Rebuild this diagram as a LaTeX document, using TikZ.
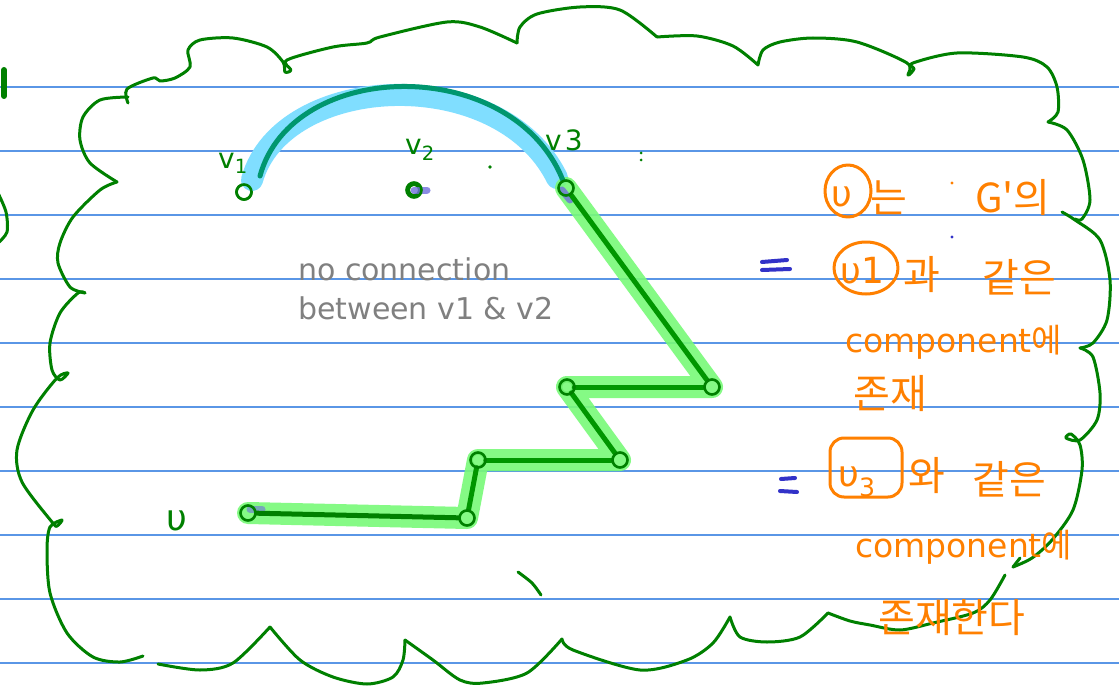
\documentclass[tikz,border=0pt]{standalone}
\usepackage{fontspec}
\setmainfont{DejaVu Sans}
\newfontfamily\kr{Noto Sans CJK KR}
\usetikzlibrary{calc}
\definecolor{pen}{RGB}{0,128,0}
\definecolor{orng}{RGB}{255,128,0}
\definecolor{rulec}{RGB}{90,150,230}
\definecolor{hlblue}{RGB}{128,222,255}
\definecolor{tealp}{RGB}{0,150,110}
\definecolor{hlgreen}{RGB}{120,250,120}
\definecolor{dgreen}{RGB}{0,150,0}
\definecolor{smudge}{RGB}{110,110,220}
\definecolor{txtgray}{RGB}{128,128,128}
\definecolor{eqblue}{RGB}{50,50,200}
\tikzset{
  ink/.style={draw=pen, line width=3pt, line cap=round, line join=round},
  oink/.style={draw=orng, line width=3pt, line cap=round, line join=round},
  vtx/.style={circle, draw=pen, line width=2.6pt, minimum size=15pt, inner sep=0pt},
  hlg/.style={draw=hlgreen, line width=22pt, line cap=round, line join=round},
  hlb/.style={draw=hlblue, line width=22pt, line cap=round, line join=round},
  edge/.style={draw=dgreen, line width=5pt, line cap=round, line join=round},
  vlabel/.style={text=pen, font=\fontsize{28}{30}\selectfont, inner sep=0pt, anchor=base west},
  ktext/.style={text=orng, font=\kr\fontsize{40}{44}\selectfont, inner sep=0pt, anchor=base west},
  etext/.style={text=orng, font=\fontsize{36}{40}\selectfont, inner sep=0pt, anchor=base west},
  ctext/.style={text=orng, font=\fontsize{33}{40}\selectfont, inner sep=0pt, anchor=base west},
  note/.style={text=txtgray, font=\fontsize{30}{38}\selectfont, inner sep=0pt, anchor=base west},
  ruleline/.style={draw=rulec, line width=1.2pt},
  eqs/.style={draw=eqblue, line width=4pt, line cap=round},
}
\begin{document}
\begin{tikzpicture}[x=1pt,y=-1pt]
\useasboundingbox[fill=white] (0,0) rectangle (1119,698);
% ruled lines
\foreach \k in {0,...,9} {
  \draw[ruleline] (0,87+64*\k) -- (1119,87+64*\k);
}
% cloud outline
\draw[ink] plot[smooth] coordinates {(128,103) (127,89) (153,78) (160,81) (175,78) (190,67) (188,50) (200,40) (233,38) (267,47) (283,62) (285,72) (291,70) (287,60) (333,47) (367,43) (380,37) (447,22) (480,27) (517,43)};
\draw[ink] plot[smooth] coordinates {(517,43) (520,27) (537,14) (580,7) (620,10) (657,37)};
\draw[ink] plot[smooth] coordinates {(657,37) (697,36) (733,46) (758,65)};
\draw[ink] plot[smooth] coordinates {(758,65) (763,50) (780,42) (813,38) (857,42) (907,63) (908,75) (914,69) (913,63) (957,53) (1023,57) (1047,67) (1057,87) (1058,112) (1048,122)};
\draw[ink] plot[smooth] coordinates {(1048,122) (1067,130) (1083,160) (1090,200) (1082,219) (1075,219)};
\draw[ink] plot[smooth] coordinates {(1062,212) (1075,220) (1100,240) (1110,280) (1107,320) (1093,343) (1080,348)};
\draw[ink] plot[smooth] coordinates {(1080,348) (1093,357) (1100,393) (1097,420) (1080,440) (1066,438) (1071,434) (1080,445) (1082,470) (1073,510) (1052,540) (1032,558) (1013,567)};
\draw[ink] (1013,567) -- (1020,558);
\draw[ink] plot[smooth] coordinates {(1005,575) (990,600) (973,613) (933,623) (900,630) (870,625) (850,621) (828,613)};
\draw[ink] plot[smooth] coordinates {(828,613) (800,637) (767,642) (740,637) (730,617)};
\draw[ink] plot[smooth] coordinates {(730,617) (713,643) (687,660) (640,670) (573,650) (562,639)};
\draw[ink] plot[smooth] coordinates {(562,639) (527,673) (483,683) (460,680) (433,660) (405,640)};
\draw[ink] plot[smooth] coordinates {(405,640) (403,660) (393,677) (367,684) (333,677) (300,660) (270,627)};
\draw[ink] plot[smooth] coordinates {(270,627) (233,663) (200,670) (158,664)};
\draw[ink] plot[smooth] coordinates {(143,656) (120,662) (93,657) (67,633) (50,593) (47,550) (50,527) (62,520) (57,526) (52,522) (22,482) (17,450) (33,410) (57,378) (68,373) (60,380) (52,370) (50,343) (60,313) (78,293) (85,293)};
\draw[ink] plot[smooth] coordinates {(85,293) (70,287) (58,263) (60,243) (73,217) (100,190) (117,182)};
\draw[ink] plot[smooth] coordinates {(117,182) (90,163) (80,140) (83,117) (100,100) (128,97)};
% stray marks
\draw[draw=pen, line width=6pt, line cap=round] (4,70) -- (4,96);
\draw[ink] plot[smooth] coordinates {(-2,193) (6,212) (7,232) (-2,243)};
\draw[ink] plot[smooth] coordinates {(518,572) (532,583) (541,595)};
\fill[pen] (490,167) circle (1.8pt);
\fill[pen] (641,153) circle (1.5pt);
\fill[pen] (641,160) circle (1.5pt);
% nodes
\node[vtx] (v1) at (244,192) {};
\node[vtx, minimum size=11pt] (v2) at (414,190) {};
\node[vtx] (v3) at (566,188) {};
\node[vtx] (p1) at (712,387) {};
\node[vtx, minimum size=12pt] (p2) at (567,387) {};
\node[vtx] (p3) at (620,460) {};
\node[vtx, minimum size=13pt] (p4) at (478,460) {};
\node[vtx] (p5) at (467,518) {};
\node[vtx] (v) at (248,513) {};
% highlights
\draw[hlb] (252,180) .. controls (282,72) and (500,62) .. (557,178);
\draw[hlg, opacity=0.9] (v3.center) -- (p1.center) -- (p2.center) -- (p3.center) -- (p4.center) -- (p5.center) -- (v.center);
% smudges
\draw[draw=smudge, line width=7pt, line cap=round, opacity=0.8] (414,190) -- (427,190);
\draw[draw=smudge, line width=7pt, line cap=round, opacity=0.8] (562,190) -- (570,200);
\draw[draw=smudge, line width=7pt, line cap=round, opacity=0.6] (250,509) -- (262,509);
% dark strokes
\draw[draw=tealp, line width=5pt, line cap=round] (260,176) .. controls (292,58) and (512,54) .. (v3);
\draw[edge] (v3) -- (p1);
\draw[edge] (p1) -- (p2);
\draw[edge] (p2) -- (p3);
\draw[edge] (p3) -- (p4);
\draw[edge] (p4) -- (p5);
\draw[edge, draw=pen] (p5) -- (v);
% redraw node circles on top
\foreach \n in {v1,v2,v3,p1,p2,p3,p4,p5,v} { \node[vtx] at (\n) {}; }
% labels
\node[vlabel] (l1) at (218,168) {v\textsubscript{1}};
\node[vlabel] (l2) at (405,155) {v\textsubscript{2}};
\node[vlabel] (l3) at (545,150) {v\kern3pt 3};
\node[vlabel] (lv) at (166,530) {\fontsize{36}{36}\selectfont υ};
% gray note
\node[note] (n1) at (298,280) {no connection};
\node[note] (n2) at (298,319) {between v1 \& v2};
% right side notes
\draw[oink] (848,191) ellipse (23pt and 26pt);
\node[etext] (c1) at (831,206) {υ};
\node[ktext] (k1) at (870,212) {는};
\fill[orng] (952,183) circle (1.6pt);
\node[ktext] (k2) at (975,212) {G'의};
\fill[eqblue] (952,237) circle (1.6pt);
\draw[eqs] (762,262) -- (787,260);
\draw[eqs] (762,270) -- (790,269);
\draw[oink] (866,268) ellipse (32pt and 26pt);
\node[etext] (c2) at (840,283) {υ1};
\node[ktext] (k3) at (903,289) {과};
\node[ktext] (k4) at (982,292) {같은};
\node[ctext] (k5) at (845,352) {component{\kr 에}};
\node[ktext] (k6) at (853,408) {존재};
\draw[eqs] (781,479) -- (795,478);
\draw[eqs] (780,491) -- (797,492);
\draw[oink, rounded corners=14pt] (830,438) rectangle (902,497);
\node[etext] (c3) at (838,486) {υ\textsubscript{3}};
\node[ktext] (k7) at (908,490) {와};
\node[ktext] (k8) at (972,494) {같은};
\node[ctext] (k9) at (855,557) {component{\kr 에}};
\node[ktext] (k10) at (878,632) {존재한다};
\end{tikzpicture}
\end{document}
